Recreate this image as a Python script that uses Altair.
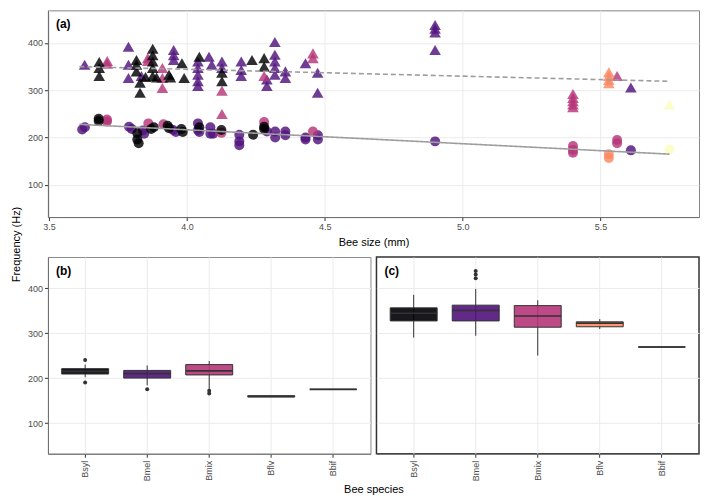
import altair as alt
import pandas as pd

SPECIES = ["Bsyl", "Bmel", "Bmix", "Bflv", "Bbif"]
COLORS = ["#000004", "#51127C", "#B63679", "#FB8861", "#FCFDBF"]

# ---- panel (a): low-frequency buzzes (circles) ----
low_bsyl_x = [3.68, 3.68, 3.82, 3.82, 3.825, 3.88, 3.87, 3.93, 3.935, 3.98, 3.985, 4.045, 4.125, 4.24, 4.28, 4.28]
low_bsyl_y = [240, 235, 209, 196, 188, 222, 218, 225, 220, 218, 212, 222, 216, 206, 223, 218]
low_bmel_x = [3.62, 3.63, 3.79, 3.80, 3.84, 3.845, 3.96, 3.95, 4.04, 4.04, 4.045, 4.085, 4.085, 4.095, 4.19, 4.19,
              4.19, 4.29, 4.32, 4.32, 4.357, 4.357, 4.43, 4.43, 4.475, 4.475, 4.90, 5.61]
low_bmel_y = [217, 222, 223, 218, 215, 208, 212, 216, 230, 216, 212, 222, 208, 208, 206, 192,
              184, 213, 213, 200, 213, 205, 200, 196, 205, 196, 192, 173]
low_bmix_x = [3.71, 3.71, 3.86, 3.915, 4.125, 4.28, 4.457, 5.40, 5.40, 5.40, 5.56, 5.56]
low_bmix_y = [238, 234, 230, 228, 210, 233, 213, 182, 174, 168, 195, 188]
low_bflv_x = [5.53, 5.53]
low_bflv_y = [165, 157]
low_bbif_x = [5.75]
low_bbif_y = [175]

# ---- panel (a): high-frequency buzzes (triangles) ----
high_bmel_x = [3.629, 3.788, 3.788, 3.788, 3.835, 3.952, 3.952, 3.952, 4.04, 4.04, 4.04, 4.04, 4.04, 4.08, 4.09,
               4.127, 4.127, 4.197, 4.197, 4.197, 4.29, 4.29, 4.319, 4.319, 4.319, 4.319, 4.319, 4.357, 4.357,
               4.43, 4.474, 4.474, 4.90, 4.90, 4.90, 4.90, 5.61]
high_bmel_y = [354, 392, 354, 326, 330, 385, 374, 364, 361, 347, 333, 319, 309, 371, 354,
               361, 347, 361, 343, 330, 323, 309, 402, 375, 361, 347, 333, 340, 326,
               357, 337, 295, 438, 430, 422, 385, 306]
high_bmix_x = [3.711, 3.711, 3.858, 3.858, 3.911, 3.911, 3.911, 4.127, 4.127, 4.28, 4.457, 4.457,
               5.40, 5.40, 5.40, 5.40, 5.40, 5.56]
high_bmix_y = [362, 356, 368, 362, 347, 326, 305, 299, 250, 330, 378, 368, 292, 284, 277, 270, 264, 330]
high_bsyl_x = [3.682, 3.682, 3.682, 3.817, 3.817, 3.817, 3.83, 3.83, 3.876, 3.876, 3.876, 3.876, 3.876, 3.85,
               3.89, 3.935, 3.94, 3.982, 3.99, 4.045, 4.127, 4.127, 4.236, 4.28, 4.28]
high_bsyl_y = [360, 347, 330, 364, 354, 340, 316, 295, 388, 374, 361, 347, 330, 328,
               327, 333, 327, 357, 326, 371, 337, 319, 364, 368, 350]
high_bflv_x = [5.53, 5.53, 5.53, 5.53]
high_bflv_y = [338, 330, 322, 315]
high_bbif_x = [5.75]
high_bbif_y = [270]

# fitted lines
fit_x = [3.61, 5.75]
fit_low = [228, 165]
fit_high = [350, 319]

# ---- panels (b) and (c): box summaries ----
low_q1 = [209, 200, 207, 158, 175]
low_med = [215, 210, 216, 159, 175]
low_q3 = [221, 217, 230, 161, 175]
low_wlo = [202, 184, 173, 158, 175]
low_whi = [230, 228, 238, 161, 175]
low_out_sp = ["Bsyl", "Bsyl", "Bmel", "Bmix", "Bmix"]
low_out_y = [240, 190, 175, 172, 166]

high_q1 = [327, 327, 313, 314, 269]
high_med = [344, 350, 338, 322, 269]
high_q3 = [356, 362, 361, 325, 269]
high_wlo = [290, 294, 250, 309, 269]
high_whi = [385, 398, 373, 331, 269]
high_out_sp = ["Bmel", "Bmel", "Bmel"]
high_out_y = [438, 430, 422]


def frame(parts):
    rows = []
    for sp, xs, ys in parts:
        for x, y in zip(xs, ys):
            rows.append({"species": sp, "size": x, "freq": y})
    return pd.DataFrame(rows)


low_df = frame([("Bmel", low_bmel_x, low_bmel_y), ("Bmix", low_bmix_x, low_bmix_y),
                ("Bsyl", low_bsyl_x, low_bsyl_y), ("Bflv", low_bflv_x, low_bflv_y),
                ("Bbif", low_bbif_x, low_bbif_y)])
high_df = frame([("Bmel", high_bmel_x, high_bmel_y), ("Bmix", high_bmix_x, high_bmix_y),
                 ("Bsyl", high_bsyl_x, high_bsyl_y), ("Bflv", high_bflv_x, high_bflv_y),
                 ("Bbif", high_bbif_x, high_bbif_y)])
fit_df = pd.DataFrame({
    "size": fit_x + fit_x,
    "freq": fit_low + fit_high,
    "kind": ["low"] * len(fit_x) + ["high"] * len(fit_x),
})

FONT = "Liberation Sans"
YDOM = [32, 469]
W_A, H_A = 652, 207
W_B, H_B = 323, 197
BOXW = 47

color = alt.Color("species:N", scale=alt.Scale(domain=SPECIES, range=COLORS), legend=None)
xa = alt.X("size:Q", scale=alt.Scale(domain=[3.496, 5.857], nice=False, zero=False),
           axis=alt.Axis(values=[3.5, 4.0, 4.5, 5.0, 5.5], format=".1f", title="Bee size (mm)",
                         titlePadding=5))
ya = alt.Y("freq:Q", scale=alt.Scale(domain=YDOM, nice=False, zero=False),
           axis=alt.Axis(values=[100, 200, 300, 400], title="Frequency (Hz)", titleY=234, titlePadding=6))

circ = alt.Chart(low_df).mark_point(filled=True, shape="circle", size=100, opacity=0.82).encode(
    x=xa, y=ya, color=color)
tri = alt.Chart(high_df).mark_point(filled=True, shape="triangle-up", size=135, opacity=0.82).encode(
    x=xa, y=ya, color=color)
lines = alt.Chart(fit_df).mark_line(color="#9e9e9e", strokeWidth=1.6).encode(
    x=xa, y=ya, detail="kind:N",
    strokeDash=alt.StrokeDash("kind:N", scale=alt.Scale(domain=["low", "high"], range=[[1, 0], [5, 3]]),
                              legend=None))


def label(t):
    return alt.Chart(pd.DataFrame({"t": [t]})).mark_text(
        align="left", baseline="middle", fontWeight="bold", fontSize=12, font=FONT, color="#000"
    ).encode(text="t:N", x=alt.value(8), y=alt.value(14))


panel_a = alt.layer(circ, tri, lines, label("(a)")).properties(
    width=W_A, height=H_A, view=alt.ViewBackground(stroke="#858585", strokeWidth=1))


def box_panel(q1, med, q3, wlo, whi, out_sp, out_y, tag, show_y, stroke, sw, xtitle):
    df = pd.DataFrame({"species": SPECIES, "q1": q1, "med": med, "q3": q3, "wlo": wlo, "whi": whi})
    odf = pd.DataFrame({"species": out_sp, "freq": out_y})
    if xtitle:
        xaxis = alt.Axis(labelAngle=270, bandPosition=0.5, grid=True, title="Bee species",
                         titleX=326, titleY=30, titleBaseline="top", labelPadding=3)
    else:
        xaxis = alt.Axis(labelAngle=270, bandPosition=0.5, grid=True, title=None, labelPadding=3)
    bx = alt.X("species:N", scale=alt.Scale(type="band", domain=SPECIES, paddingInner=0, paddingOuter=0.1),
               axis=xaxis)
    if show_y:
        yaxis = alt.Axis(values=[100, 200, 300, 400], title=None)
    else:
        yaxis = alt.Axis(values=[100, 200, 300, 400], title=None, labels=False, ticks=False, domain=False)
    ysc = alt.Scale(domain=YDOM, nice=False, zero=False)
    whisk = alt.Chart(df).mark_rule(color="#333333", strokeWidth=1).encode(
        x=bx, y=alt.Y("wlo:Q", scale=ysc, axis=yaxis), y2="whi:Q")
    box = alt.Chart(df).mark_bar(size=BOXW, stroke="#333333", strokeWidth=1, fillOpacity=0.9).encode(
        x=bx, y=alt.Y("q1:Q", scale=ysc, axis=yaxis), y2="q3:Q", color=color)
    medt = alt.Chart(df).mark_tick(size=BOXW, thickness=1.6, color="#333333", opacity=1).encode(
        x=bx, y=alt.Y("med:Q", scale=ysc, axis=yaxis))
    outl = alt.Chart(odf).mark_circle(size=16, color="#333333", opacity=1).encode(
        x=bx, y=alt.Y("freq:Q", scale=ysc, axis=yaxis))
    return alt.layer(whisk, box, medt, outl, label(tag)).properties(
        width=W_B, height=H_B, view=alt.ViewBackground(stroke=stroke, strokeWidth=sw))


panel_b = box_panel(low_q1, low_med, low_q3, low_wlo, low_whi, low_out_sp, low_out_y, "(b)", True,
                    "#8a8a8a", 1, True)
panel_c = box_panel(high_q1, high_med, high_q3, high_wlo, high_whi, high_out_sp, high_out_y, "(c)", False,
                    "#333333", 1.5, False)

bottom = alt.hconcat(panel_b, panel_c, spacing=6, bounds="flush")
chart = alt.vconcat(panel_a, bottom, spacing=40, bounds="flush").properties(
    padding={"left": 1, "top": 1, "right": 1, "bottom": 1}
).configure_axis(
    labelFont=FONT, labelFontSize=9, labelColor="#4d4d4d",
    titleFont=FONT, titleFontSize=11, titleFontWeight="normal", titleColor="#000000",
    tickColor="#333333", tickSize=3.5, gridColor="#ebebeb", gridWidth=1,
    domainColor="#6e6e6e", labelPadding=2,
)

chart.save("out.html", embed_options={"renderer": "svg", "actions": False})
